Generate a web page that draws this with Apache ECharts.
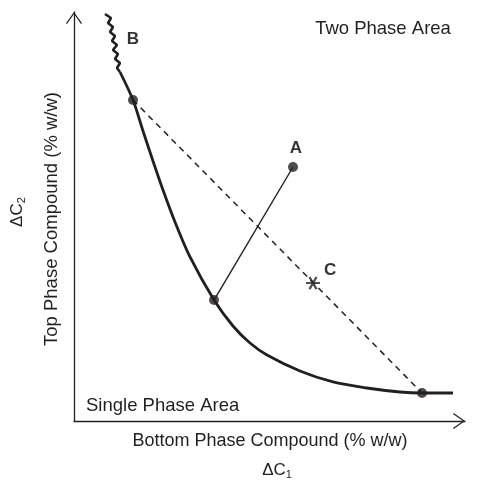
<!DOCTYPE html>
<html>
<head>
<meta charset="utf-8">
<script src="https://cdn.jsdelivr.net/npm/echarts@6/dist/echarts.min.js"></script>
<style>html,body{margin:0;padding:0;background:#fff}#c{width:480px;height:482px}</style>
</head>
<body>
<div id="c"></div>
<script>
// Data (arbitrary % w/w units, 0-100 on both axes)
const binodalWavy = [[7.93,99.51],[9.46,98.53],[8.70,97.31],[9.97,96.33],[9.21,95.11],[10.49,94.13],[9.72,92.91],[11.00,91.93],[9.97,90.71],[11.25,89.73],[10.49,88.51],[11.76,87.53],[11.00,86.31],[11.76,85.33]];
const binodalCurve = [[11.76,85.33],[15.09,78.48],[17.65,70.91],[20.20,63.57],[22.76,56.48],[25.83,48.66],[29.67,40.10],[35.81,29.58],[40.66,23.23],[45.01,19.07],[49.36,16.14],[57.80,12.23],[66.24,9.54],[74.93,8.07],[83.37,7.09],[89.0,6.85],[96.93,6.85]];
const tieLine = [[15.09,78.48],[89.0,6.85]];
const lineA = [[56.01,62.10],[35.81,29.58]];
const nodePoints = [[15.09,78.48],[35.81,29.58],[89.0,6.85],[56.01,62.10]];
const pointC = [61.13,33.74];
const labelB = 'B', labelA = 'A', labelC = 'C';
const xTitle = 'Bottom Phase Compound (% w/w)';
const yTitle = 'Top Phase Compound (% w/w)';
const regionTop = 'Two Phase Area';
const regionBottom = 'Single Phase Area';

const FONT = '"Liberation Sans", Arial, Helvetica, sans-serif';
const INK = '#231f20';
const arrowPath = 'path://M8,0 L16,11.2 L15,12 L8,2 L1,12 L0,11.2 Z';
const asteriskPath = 'path://M-10,-1.6 L10,-1.6 L10,1.6 L-10,1.6 Z M3.61,9.46 L-6.39,-7.86 L-3.61,-9.46 L6.39,7.86 Z M6.39,-7.86 L-3.61,9.46 L-6.39,7.86 L3.61,-9.46 Z';
const lbl = (t, off) => ({ show: true, formatter: t, offset: off, position: 'top', distance: 0, fontWeight: 'bold', fontSize: 17, color: '#000', textBorderWidth: 0, fontFamily: FONT });

const axisCommon = {
  type: 'value', min: 0, max: 100,
  axisLine: { show: true, lineStyle: { color: INK, width: 1.3 }, symbol: ['none', arrowPath], symbolSize: [16, 12], symbolOffset: [0, -6] },
  axisTick: { show: false }, axisLabel: { show: false }, splitLine: { show: false }
};

const chart = echarts.init(document.getElementById('c'));
chart.setOption({
  animation: false,
  textStyle: { fontFamily: FONT },
  grid: { left: 74, right: 15, top: 12, bottom: 61 },
  xAxis: Object.assign({}, axisCommon),
  yAxis: Object.assign({}, axisCommon),
  series: [
    { type: 'line', data: binodalWavy, showSymbol: false, symbol: 'none', lineStyle: { color: INK, width: 2.6 }, z: 3 },
    { type: 'scatter', data: [{ value: binodalWavy[6], label: lbl(labelB, [21, 7]) }], symbol: 'circle', symbolSize: 1, itemStyle: { color: 'rgba(0,0,0,0)' }, z: 5 },
    { type: 'line', data: binodalCurve, smooth: 0.3, symbol: 'none', lineStyle: { color: INK, width: 2.8 }, z: 3 },
    { type: 'line', data: tieLine, symbol: 'none', lineStyle: { color: INK, width: 1.5, type: [6, 5] }, z: 2 },
    { type: 'line', data: lineA, symbol: 'none', lineStyle: { color: INK, width: 1.4 }, z: 2 },
    { type: 'scatter', data: nodePoints.map((p, i) => i === 3 ? { value: p, label: lbl(labelA, [3, -5]) } : p),
      symbol: 'circle', symbolSize: 10, itemStyle: { color: INK }, z: 4 },
    { type: 'scatter', data: [{ value: pointC, label: lbl(labelC, [17, 2]) }],
      symbol: asteriskPath, symbolSize: 14, symbolKeepAspect: true, itemStyle: { color: INK }, z: 4 }
  ],
  graphic: [
    { type: 'text', x: 383, y: 29, style: { text: regionTop, font: '18.5px ' + FONT, fill: INK, align: 'center', verticalAlign: 'middle' } },
    { type: 'text', x: 86, y: 406, style: { text: regionBottom, font: '18.5px ' + FONT, fill: INK, align: 'left', verticalAlign: 'middle' } },
    { type: 'text', x: 270, y: 441, style: { text: xTitle, font: '18px ' + FONT, fill: INK, align: 'center', verticalAlign: 'middle' } },
    { type: 'text', x: 277, y: 470, style: { text: '{m|ΔC}{s|1}', fill: INK, align: 'center', verticalAlign: 'middle',
        rich: { m: { fontSize: 17, fontFamily: FONT, fill: INK }, s: { fontSize: 11, fontFamily: FONT, fill: INK, padding: [9, 0, 0, 0] } } } },
    { type: 'text', x: 52, y: 219, rotation: Math.PI / 2, style: { text: yTitle, font: '18.5px ' + FONT, fill: INK, align: 'center', verticalAlign: 'middle' } },
    { type: 'text', x: 17, y: 212, rotation: Math.PI / 2, style: { text: '{m|ΔC}{s|2}', fill: INK, align: 'center', verticalAlign: 'middle',
        rich: { m: { fontSize: 17, fontFamily: FONT, fill: INK }, s: { fontSize: 11, fontFamily: FONT, fill: INK, padding: [9, 0, 0, 0] } } } }
  ]
});
</script>
</body>
</html>
